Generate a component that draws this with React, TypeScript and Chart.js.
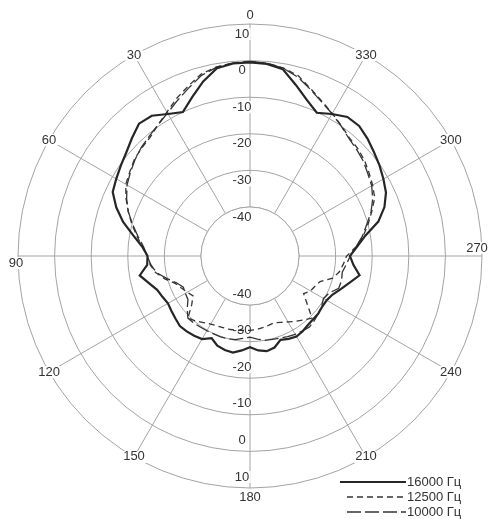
import React, { useEffect, useRef } from "react";
import { Chart, registerables } from "chart.js";

Chart.register(...registerables);

// Angles in degrees, counter-clockwise from the top (as in the reference)
const angles: number[] = [
  0, 5, 10, 15, 20, 25, 30, 35, 40, 45, 50, 55, 60, 65, 70, 75, 80, 85,
  90, 95, 100, 105, 110, 115, 120, 125, 130, 135, 140, 145, 150, 155, 160, 165, 170, 175,
  180, 185, 190, 195, 200, 205, 210, 215, 220, 225, 230, 235, 240, 245, 250, 255, 260, 265,
  270, 275, 280, 285, 290, 295, 300, 305, 310, 315, 320, 325, 330, 335, 340, 345, 350, 355,
];

const level16000: number[] = [
  -0.5, -0.6, -1.3, -4.0, -7.2, -10.0, -8.6, -6.6, -6.2, -7.8, -9.3, -10.3, -11.2, -12.0, -14.5, -17.5, -21.0, -23.8,
  -25.4, -25.2, -22.8, -24.8, -26.4, -27.0, -27.5, -27.2, -26.8, -26.3, -26.5, -26.8, -27.2, -28.6, -27.3, -26.8, -26.6, -27.5,
  -28.5, -27.5, -27.0, -27.5, -29.0, -28.4, -28.0, -28.3, -28.8, -29.0, -29.0, -29.3, -29.2, -28.5, -27.0, -25.2, -23.0, -25.0,
  -26.1, -24.0, -21.4, -17.1, -14.3, -12.4, -11.3, -10.2, -9.2, -8.0, -7.0, -7.0, -8.6, -10.2, -8.0, -5.0, -1.6, -0.7,
];

const level12500: number[] = [
  -0.3, -0.5, -0.9, -1.9, -4.0, -5.9, -8.0, -9.6, -11.0, -11.6, -12.2, -13.3, -14.2, -16.0, -18.0, -20.0, -22.0, -23.9,
  -25.3, -26.0, -27.2, -29.3, -31.6, -32.7, -33.6, -34.4, -32.6, -29.4, -30.2, -31.2, -31.9, -32.3, -32.5, -32.6, -32.8, -33.0,
  -33.1, -33.2, -33.5, -33.8, -34.0, -33.4, -32.6, -31.6, -30.6, -29.4, -33.0, -35.5, -34.3, -33.8, -33.0, -30.0, -28.6, -27.8,
  -27.0, -24.3, -22.0, -20.0, -18.0, -15.8, -14.7, -13.7, -12.6, -11.8, -11.2, -9.9, -8.4, -6.8, -4.8, -2.4, -1.2, -0.5,
];

const level10000: number[] = [
  -0.2, -0.4, -1.0, -2.3, -4.5, -6.5, -8.3, -9.6, -10.6, -11.4, -12.4, -13.5, -14.6, -16.2, -18.0, -20.2, -22.3, -24.2,
  -25.3, -26.2, -27.4, -29.8, -32.0, -33.3, -33.0, -32.7, -31.0, -29.4, -29.5, -29.7, -29.8, -29.9, -29.9, -30.0, -30.2, -30.8,
  -31.2, -30.6, -30.0, -29.8, -29.5, -29.1, -28.7, -28.4, -28.1, -28.5, -29.0, -29.5, -30.2, -29.5, -27.6, -27.5, -27.8, -27.0,
  -26.0, -24.3, -22.2, -20.4, -18.2, -16.4, -15.0, -14.1, -13.0, -12.2, -11.4, -10.0, -8.5, -7.0, -5.0, -2.8, -1.3, -0.5,
];

const seriesNames: string[] = ["16000 Гц", "12500 Гц", "10000 Гц"];
const ringValues: number[] = [-40, -30, -20, -10, 0, 10];
const angleLabelStep = 30;
const scaleMin = -53.4;
const scaleMax = 10;

const GRID = "#a3a3a3";
const TEXT = "#333333";
const FONT = '13px "Liberation Sans", Arial, sans-serif';

// label offsets for the four cardinal angle labels
const angleLabelShift: Record<number, [number, number]> = {
  0: [0, -9],
  90: [-2, 7],
  180: [0, 9],
  270: [-5, -8],
};

function labelWithBackdrop(ctx: CanvasRenderingContext2D, text: string, x: number, y: number) {
  const w = ctx.measureText(text).width;
  ctx.fillStyle = "#ffffff";
  ctx.fillRect(x - w / 2 - 1.5, y - 6, w + 3, 12);
  ctx.fillStyle = TEXT;
  ctx.fillText(text, x, y);
}

const polarDecor = {
  id: "polarDecor",
  beforeDatasetsDraw(chart: any) {
    const s = chart.scales.r;
    const ctx: CanvasRenderingContext2D = chart.ctx;
    const xc = s.xCenter;
    const yc = s.yCenter;
    const rIn = s.getDistanceFromCenterForValue(ringValues[0]);
    ctx.save();
    ctx.fillStyle = "#ffffff";
    ctx.beginPath();
    ctx.arc(xc, yc, rIn, 0, Math.PI * 2);
    ctx.fill();
    ctx.strokeStyle = GRID;
    ctx.lineWidth = 1;
    ctx.beginPath();
    ctx.arc(xc, yc, rIn, 0, Math.PI * 2);
    ctx.stroke();

    ctx.font = FONT;
    ctx.textAlign = "center";
    ctx.textBaseline = "middle";
    for (const v of ringValues) {
      const r = s.getDistanceFromCenterForValue(v);
      labelWithBackdrop(ctx, String(v), xc - 8, yc - r + 10);
      labelWithBackdrop(ctx, String(v), xc - 8, yc + r - 11);
    }

    const rOut = s.getDistanceFromCenterForValue(s.max);
    (chart.data.labels as number[]).forEach((a, i) => {
      if (a % angleLabelStep !== 0) return;
      const p = s.getPointPosition(i, rOut);
      const sh = angleLabelShift[a] || [0, 0];
      labelWithBackdrop(ctx, String(a), p.x + sh[0], p.y + sh[1]);
    });
    ctx.restore();
  },
  afterDraw(chart: any) {
    const ctx: CanvasRenderingContext2D = chart.ctx;
    const textX = 407;
    const y0 = 482;
    const step = 15;
    ctx.save();
    ctx.font = FONT;
    ctx.textAlign = "left";
    ctx.textBaseline = "middle";
    chart.data.datasets.forEach((ds: any, i: number) => {
      const y = y0 + i * step;
      ctx.strokeStyle = ds.borderColor;
      ctx.lineWidth = ds.borderWidth;
      ctx.setLineDash(ds.borderDash || []);
      ctx.beginPath();
      ctx.moveTo(i === 0 ? textX - 67 : textX - 60, y);
      ctx.lineTo(textX - 1, y);
      ctx.stroke();
      ctx.setLineDash([]);
      ctx.fillStyle = TEXT;
      ctx.fillText(ds.label, textX, y + 0.5);
    });
    ctx.restore();
  },
};

export default function App() {
  const canvasRef = useRef<HTMLCanvasElement | null>(null);

  useEffect(() => {
    if (!canvasRef.current) return;
    const n = angles.length;
    const order = angles.map((_, i) => (n - i) % n); // clockwise drawing order
    const labels = order.map((k) => angles[k]);
    const pick = (arr: number[]) => order.map((k) => arr[k]);

    const chart = new Chart(canvasRef.current, {
      type: "radar",
      data: {
        labels,
        datasets: [
          {
            label: seriesNames[0],
            data: pick(level16000),
            borderColor: "#262626",
            borderWidth: 2.2,
            borderDash: [],
            fill: false,
          },
          {
            label: seriesNames[1],
            data: pick(level12500),
            borderColor: "#333333",
            borderWidth: 1.3,
            borderDash: [6, 4],
            fill: false,
          },
          {
            label: seriesNames[2],
            data: pick(level10000),
            borderColor: "#333333",
            borderWidth: 1.3,
            borderDash: [14, 4],
            fill: false,
          },
        ],
      },
      options: {
        responsive: false,
        animation: false,
        layout: { padding: { left: 18, top: 24, right: 6, bottom: 31 } },
        elements: {
          line: { tension: 0 },
          point: { radius: 0, hoverRadius: 0 },
        },
        plugins: {
          legend: { display: false },
          tooltip: { enabled: false },
        },
        scales: {
          r: {
            min: scaleMin,
            max: scaleMax,
            startAngle: 0,
            afterBuildTicks: (scale: any) => {
              scale.ticks = ringValues.map((v) => ({ value: v }));
            },
            ticks: { display: false },
            pointLabels: { display: false },
            grid: { circular: true, color: GRID, lineWidth: 1 },
            angleLines: {
              display: true,
              lineWidth: 1,
              color: (ctx: any) =>
                labels[ctx.index] % angleLabelStep === 0 ? GRID : "rgba(0,0,0,0)",
            },
          },
        },
      },
      plugins: [polarDecor],
    });
    return () => chart.destroy();
  }, []);

  return (
    <div style={{ position: "absolute", left: 0, top: 0, width: 488, height: 519, background: "#fff" }}>
      <canvas ref={canvasRef} width={488} height={519} style={{ display: "block" }} />
    </div>
  );
}
